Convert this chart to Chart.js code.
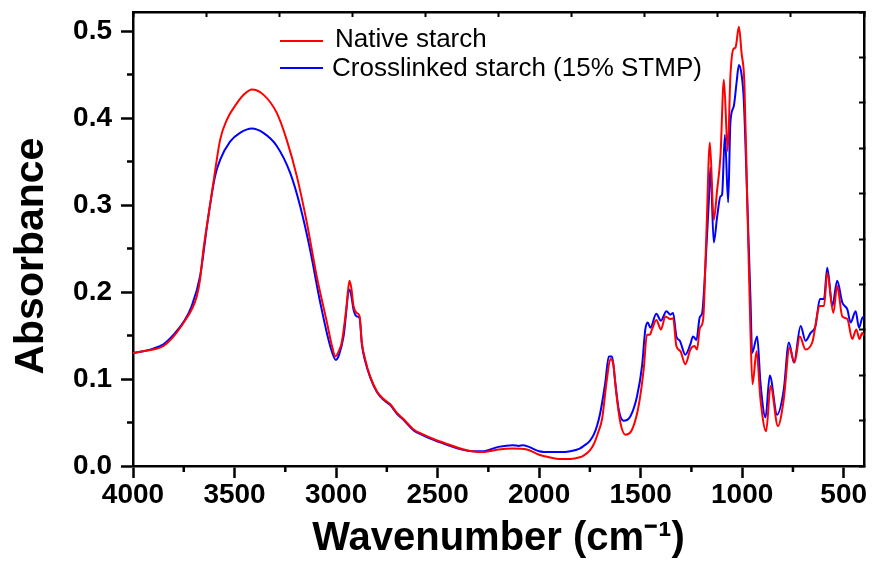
<!DOCTYPE html>
<html>
<head>
<meta charset="utf-8">
<script src="https://cdn.jsdelivr.net/npm/chart.js@4.4.1/dist/chart.umd.min.js"></script>
<style>
  html, body { margin: 0; padding: 0; background: #ffffff; }
  #wrap { position: relative; width: 872px; height: 563px; }
  .legend-row { position: absolute; left: 280px; font: 26px "Liberation Sans", Arial, sans-serif; line-height: 26px; color: #000; white-space: nowrap; }
  .legend-row .swatch { position: absolute; left: 0; width: 43px; height: 0; border-top: 2px solid; }
  .legend-row .label { position: absolute; white-space: nowrap; }
</style>
</head>
<body>
<div id="wrap">
  <canvas id="ftirChart"></canvas>
  <div class="legend-row" style="top:25px">
    <span class="swatch" style="top:15px;border-color:#ff0000"></span>
    <span class="label" style="left:55px">Native starch</span>
  </div>
  <div class="legend-row" style="top:54px">
    <span class="swatch" style="top:13px;border-color:#0000ff"></span>
    <span class="label" style="left:52px">Crosslinked starch (15% STMP)</span>
  </div>
</div>
<script>
// ---- data (wavenumber in cm-1, absorbance) ----
const nativeWavenumber = [
  4000, 3950, 3900, 3850, 3800, 3750, 3711, 3686, 3670, 3653, 3629, 3604, 3571, 3538, 3489, 3450,
  3415, 3358, 3292, 3243, 3193, 3144, 3095, 3045, 3020, 3003, 2985, 2972, 2950, 2934, 2925, 2914,
  2898, 2884, 2873, 2856, 2832, 2799, 2766, 2733, 2700, 2668, 2618, 2569, 2520, 2450, 2400, 2330,
  2280, 2200, 2130, 2060, 2000, 1950, 1900, 1846, 1800, 1781, 1750, 1731, 1710, 1690, 1666, 1649,
  1636, 1620, 1600, 1575, 1542, 1510, 1485, 1469, 1455, 1444, 1423, 1400, 1378, 1354, 1340, 1324,
  1304, 1280, 1255, 1235, 1222, 1209, 1197, 1190, 1176, 1159, 1140, 1123, 1107, 1090, 1071, 1058,
  1044, 1033, 1016, 1003, 989, 975, 959, 949, 929, 910, 882, 860, 824, 795, 767, 742,
  716, 688, 655, 617, 597, 581, 551, 532, 507, 482, 458, 438, 422, 409, 400
];
const nativeAbsorbance = [
  0.130, 0.132, 0.134, 0.138, 0.149, 0.165, 0.180, 0.195, 0.214, 0.249, 0.287, 0.326, 0.375, 0.398, 0.417, 0.428,
  0.433, 0.427, 0.406, 0.375, 0.333, 0.280, 0.218, 0.165, 0.138, 0.126, 0.133, 0.142, 0.180, 0.213, 0.205, 0.184,
  0.176, 0.172, 0.142, 0.122, 0.103, 0.086, 0.077, 0.071, 0.061, 0.054, 0.042, 0.036, 0.031, 0.025, 0.021, 0.017,
  0.016, 0.019, 0.020, 0.019, 0.013, 0.010, 0.008, 0.008, 0.010, 0.012, 0.018, 0.025, 0.038, 0.054, 0.100, 0.123,
  0.119, 0.084, 0.050, 0.036, 0.042, 0.069, 0.111, 0.151, 0.151, 0.157, 0.168, 0.157, 0.172, 0.169, 0.170, 0.138,
  0.132, 0.117, 0.134, 0.138, 0.134, 0.158, 0.163, 0.175, 0.268, 0.372, 0.283, 0.318, 0.356, 0.444, 0.362, 0.448,
  0.479, 0.481, 0.505, 0.475, 0.440, 0.306, 0.153, 0.094, 0.132, 0.077, 0.040, 0.092, 0.046, 0.077, 0.136, 0.119,
  0.149, 0.134, 0.142, 0.184, 0.184, 0.222, 0.176, 0.207, 0.172, 0.169, 0.146, 0.157, 0.146, 0.153, 0.150
];

const crosslinkedWavenumber = [
  4000, 3950, 3900, 3850, 3800, 3750, 3711, 3670, 3629, 3596, 3571, 3522, 3473, 3415, 3358, 3292,
  3226, 3177, 3128, 3078, 3029, 3001, 2985, 2963, 2934, 2925, 2914, 2898, 2884, 2873, 2856, 2832,
  2799, 2766, 2733, 2700, 2668, 2618, 2569, 2520, 2450, 2400, 2330, 2280, 2200, 2130, 2100, 2080,
  2050, 2000, 1945, 1900, 1846, 1800, 1781, 1750, 1731, 1715, 1699, 1674, 1657, 1641, 1625, 1608,
  1584, 1551, 1518, 1493, 1477, 1465, 1452, 1423, 1400, 1373, 1354, 1340, 1324, 1307, 1280, 1255,
  1242, 1225, 1209, 1197, 1181, 1164, 1156, 1140, 1123, 1107, 1099, 1085, 1069, 1058, 1041, 1028,
  1016, 1003, 992, 975, 959, 951, 926, 910, 885, 864, 828, 795, 770, 745, 712, 688,
  663, 639, 617, 597, 581, 556, 532, 507, 482, 466, 441, 425, 409, 400
];
const crosslinkedAbsorbance = [
  0.130, 0.132, 0.135, 0.140, 0.151, 0.166, 0.184, 0.218, 0.287, 0.333, 0.352, 0.373, 0.383, 0.388, 0.383, 0.368,
  0.337, 0.299, 0.249, 0.188, 0.138, 0.122, 0.128, 0.149, 0.203, 0.196, 0.180, 0.172, 0.170, 0.140, 0.120, 0.102,
  0.085, 0.076, 0.070, 0.060, 0.053, 0.041, 0.035, 0.030, 0.024, 0.020, 0.017, 0.017, 0.022, 0.024, 0.023, 0.024,
  0.022, 0.017, 0.016, 0.016, 0.017, 0.020, 0.023, 0.029, 0.036, 0.046, 0.061, 0.096, 0.126, 0.126, 0.096, 0.065,
  0.052, 0.057, 0.080, 0.115, 0.157, 0.165, 0.159, 0.175, 0.167, 0.178, 0.174, 0.176, 0.149, 0.144, 0.128, 0.140,
  0.149, 0.145, 0.171, 0.176, 0.230, 0.306, 0.343, 0.257, 0.287, 0.310, 0.312, 0.381, 0.303, 0.395, 0.414, 0.440,
  0.461, 0.450, 0.421, 0.306, 0.192, 0.130, 0.149, 0.096, 0.056, 0.104, 0.059, 0.088, 0.142, 0.119, 0.161, 0.144,
  0.153, 0.161, 0.192, 0.192, 0.228, 0.184, 0.213, 0.188, 0.180, 0.165, 0.178, 0.159, 0.170, 0.172
];

// axis ranges and tick positions
const wavenumberRange = [400, 4000];
const absorbanceRange = [0, 0.522];
const xMajorTicks = [4000, 3500, 3000, 2500, 2000, 1500, 1000, 500];
const yMajorTicks = [0, 0.1, 0.2, 0.3, 0.4, 0.5];
const xMinorTicks = [3750, 3250, 2750, 2250, 1750, 1250, 750];
const yMinorTicks = [0.05, 0.15, 0.25, 0.35, 0.45];
const frameTicks = [0, 1, 2, 3, 4, 5, 6, 7, 8, 9, 10];

function toPoints(xs, ys) {
  return xs.map((x, i) => ({ x: x, y: ys[i] }));
}

const tickFont = { family: '"Liberation Sans", Arial, sans-serif', size: 28, weight: 'bold' };

// short outward minor ticks on the bottom and left axes
const minorTicks = {
  id: 'minorTicks',
  afterDraw(chart) {
    const { ctx, chartArea, scales } = chart;
    ctx.save();
    ctx.strokeStyle = '#000000';
    ctx.lineWidth = 2.5;
    ctx.beginPath();
    xMinorTicks.forEach(v => {
      const px = scales.x.getPixelForValue(v);
      ctx.moveTo(px, chartArea.bottom);
      ctx.lineTo(px, chartArea.bottom + 6);
    });
    yMinorTicks.forEach(v => {
      const py = scales.y.getPixelForValue(v);
      ctx.moveTo(chartArea.left, py);
      ctx.lineTo(chartArea.left - 6, py);
    });
    ctx.stroke();
    ctx.restore();
  }
};

function frameAxis(position, size) {
  return {
    type: 'linear',
    position: position,
    min: 0,
    max: 10,
    afterBuildTicks: s => { s.ticks = frameTicks.map(v => ({ value: v })); },
    afterFit: s => {
      if (position === 'top') s.height = size; else s.width = size;
      s.paddingTop = s.paddingBottom = s.paddingLeft = s.paddingRight = 0;
    },
    border: { display: true, color: '#000000', width: 2.5 },
    grid: { drawOnChartArea: false, tickLength: -5, tickWidth: 2, tickColor: '#000000' },
    ticks: { display: false }
  };
}

const ftirChart = new Chart(document.getElementById('ftirChart'), {
  type: 'line',
  data: {
    datasets: [
      {
        label: 'Native starch',
        data: toPoints(nativeWavenumber, nativeAbsorbance),
        borderColor: '#ff0000',
        backgroundColor: '#ff0000',
        borderWidth: 2,
        pointRadius: 0,
        cubicInterpolationMode: 'monotone',
        fill: false
      },
      {
        label: 'Crosslinked starch (15% STMP)',
        data: toPoints(crosslinkedWavenumber, crosslinkedAbsorbance),
        borderColor: '#0000ff',
        backgroundColor: '#0000ff',
        borderWidth: 2,
        pointRadius: 0,
        cubicInterpolationMode: 'monotone',
        fill: false
      }
    ]
  },
  options: {
    responsive: true,
    maintainAspectRatio: false,
    animation: false,
    layout: { padding: 0 },
    plugins: {
      legend: { display: false },
      tooltip: { enabled: false }
    },
    scales: {
      x: {
        type: 'linear',
        position: 'bottom',
        reverse: true,
        min: wavenumberRange[0],
        max: wavenumberRange[1],
        afterBuildTicks: s => { s.ticks = xMajorTicks.map(v => ({ value: v })); },
        afterFit: s => { s.height = 97; s.paddingLeft = 0; s.paddingRight = 0; },
        border: { display: true, color: '#000000', width: 2.5 },
        grid: { drawOnChartArea: false, tickLength: 12, tickWidth: 2.5, tickColor: '#000000' },
        ticks: {
          autoSkip: false,
          color: '#000000',
          padding: 0,
          maxRotation: 0,
          font: tickFont,
          callback: v => String(v)
        },
        title: {
          display: true,
          text: 'Wavenumber (cm⁻¹)',
          color: '#000000',
          padding: { top: 0, bottom: 0 },
          font: { family: '"Liberation Sans", Arial, sans-serif', size: 40, weight: 'bold' }
        }
      },
      y: {
        type: 'linear',
        position: 'left',
        min: absorbanceRange[0],
        max: absorbanceRange[1],
        afterBuildTicks: s => { s.ticks = yMajorTicks.map(v => ({ value: v })); },
        afterFit: s => { s.width = 133; s.paddingTop = 0; s.paddingBottom = 0; },
        border: { display: true, color: '#000000', width: 2.5 },
        grid: { drawOnChartArea: false, tickLength: 12, tickWidth: 2.5, tickColor: '#000000' },
        ticks: {
          autoSkip: false,
          color: '#000000',
          padding: 9,
          font: tickFont,
          callback: v => v.toFixed(1)
        },
        title: {
          display: true,
          text: 'Absorbance   ',
          color: '#000000',
          padding: { top: 7, bottom: 0 },
          font: { family: '"Liberation Sans", Arial, sans-serif', size: 41, weight: 'bold' }
        }
      },
      // frame on top and right with small inward ticks
      x2: frameAxis('top', 12),
      y2: frameAxis('right', 8)
    }
  },
  plugins: [minorTicks]
});
</script>
</body>
</html>
